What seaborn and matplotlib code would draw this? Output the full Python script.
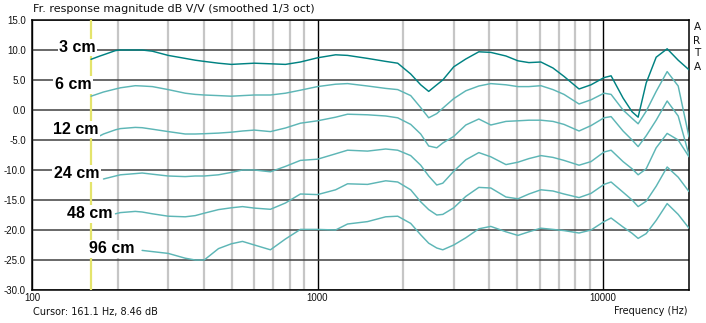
import numpy as np
import pandas as pd
import matplotlib
matplotlib.use("Agg")
import matplotlib.pyplot as plt
import seaborn as sns
from matplotlib.ticker import FixedLocator, NullFormatter, FuncFormatter

nan = np.nan

# ---- data ----
freq_hz = [161, 173, 178, 196, 204, 230, 243, 264, 300, 344, 373, 401, 450, 499, 546,
           601, 684, 772, 871, 1000, 1157, 1274, 1497, 1733, 1909, 2120, 2298, 2451, 2616,
           2746, 3000, 3306, 3672, 4045, 4570, 5033, 5500, 6057, 6677, 7299, 8240, 9075,
           10080, 10670, 11750, 12640, 13270, 14160, 15350, 16770, 18330, 20000]

cm3 = [8.45, 9.0, 9.2, 9.9, 10.0, 10.0, 10.0, 9.8, 9.1, 8.6, 8.3, 8.1, 7.8, 7.6, 7.7,
       7.8, 7.7, 7.6, 8.0, 8.7, 9.2, 9.1, 8.6, 8.1, 7.8, 6.0, 4.2, 3.1, 4.2,
       5.0, 7.2, 8.5, 9.7, 9.6, 9.0, 8.2, 7.9, 8.0, 7.0, 5.6, 3.5, 4.2,
       5.4, 5.7, 2.0, -0.3, -1.2, 4.5, 8.8, 10.2, 8.3, 6.7]
cm6 = [2.3, 2.8, 3.0, 3.5, 3.7, 4.05, 4.0, 3.9, 3.4, 2.8, 2.6, 2.5, 2.4, 2.3, 2.4,
       2.5, 2.5, 2.8, 3.3, 3.9, 4.3, 4.4, 4.0, 3.6, 3.4, 2.4, 0.4, -1.3, -0.6,
       0.3, 1.9, 3.2, 4.0, 4.4, 4.2, 3.9, 3.9, 4.05, 3.4, 2.6, 1.0, 1.7,
       2.8, 2.6, 0.0, -1.4, -2.3, -0.2, 3.1, 6.4, 4.0, -4.5]
cm12 = [nan, -4.3, -4.0, -3.3, -3.1, -2.9, -2.95, -3.2, -3.6, -4.0, -4.0, -3.95, -3.85, -3.7, -3.5,
        -3.35, -3.6, -3.0, -2.2, -1.8, -1.2, -0.7, -0.8, -1.0, -1.3, -2.4, -4.0, -6.0, -6.3,
        -5.5, -4.4, -2.5, -1.5, -2.5, -1.9, -1.8, -1.7, -1.7, -1.9, -2.4, -3.5, -2.6,
        -1.3, -1.1, -3.5, -5.0, -6.1, -4.3, -1.7, 1.5, -1.0, -7.5]
cm24 = [nan, nan, -11.5, -11.0, -10.8, -10.6, -10.5, -10.7, -11.0, -11.1, -11.0, -11.0, -10.8, -10.4, -10.0,
        -10.0, -10.3, -9.4, -8.4, -8.2, -7.3, -6.7, -6.85, -6.5, -6.7, -7.6, -9.2, -11.0, -12.5,
        -12.2, -10.2, -8.3, -7.1, -7.8, -9.1, -8.7, -8.1, -7.6, -7.9, -8.4, -9.2, -8.6,
        -7.0, -6.7, -8.6, -9.8, -10.8, -9.8, -6.3, -3.9, -5.0, -7.8]
cm48 = [nan, nan, nan, -17.3, -17.1, -16.9, -17.0, -17.3, -17.7, -17.8, -17.6, -17.2, -16.6, -16.3, -16.1,
        -16.35, -16.55, -15.5, -14.0, -14.1, -13.3, -12.3, -12.4, -11.8, -12.0, -13.3, -15.3, -16.6, -17.5,
        -17.4, -16.3, -14.4, -12.9, -13.0, -14.5, -14.8, -14.0, -13.3, -13.5, -14.0, -14.6, -13.9,
        -12.4, -12.0, -13.7, -15.0, -16.1, -15.2, -12.7, -9.5, -11.2, -13.6]
cm96 = [nan, nan, nan, nan, nan, nan, -23.4, -23.6, -23.9, -24.7, -25.0, -25.0, -23.1, -22.3, -21.9,
        -22.5, -23.3, -21.5, -19.9, -19.9, -20.0, -19.0, -18.6, -17.8, -17.7, -18.9, -20.8, -22.2, -23.0,
        -23.3, -22.5, -21.3, -19.8, -19.4, -20.3, -20.9, -20.3, -19.7, -19.9, -20.1, -20.5, -20.0,
        -18.6, -18.0, -19.5, -20.55, -21.4, -20.6, -18.4, -15.6, -17.4, -19.7]

distances = ["3 cm", "6 cm", "12 cm", "24 cm", "48 cm", "96 cm"]
series = [cm3, cm6, cm12, cm24, cm48, cm96]
x_tick_values = [100, 1000, 10000]
x_tick_labels = ["100", "1000", "10000"]
y_tick_values = [15, 10, 5, 0, -5, -10, -15, -20, -25, -30]
cursor_hz = 161.1
cursor_db = 8.46

# ---- build long table ----
rows = []
for name, vals in zip(distances, series):
    for f, v in zip(freq_hz, vals):
        if not np.isnan(v):
            rows.append({"freq": f, "db": v, "dist": name})
df = pd.DataFrame(rows)

sns.set_theme(style="white")
plt.rcParams["font.family"] = ["DejaVu Sans"]

W, H = 706, 323
fig = plt.figure(figsize=(W / 100, H / 100), dpi=100)
L, R, T, B = 32, 689, 20, 290
ax = fig.add_axes([L / W, (H - B) / H, (R - L) / W, (B - T) / H])
ax.set_facecolor("white")

dark = "#008282"
light = "#5db6b6"
palette = {d: (dark if d == "3 cm" else light) for d in distances}

ax.set_xscale("log")
sns.lineplot(data=df, x="freq", y="db", hue="dist", palette=palette, legend=False,
             ax=ax, linewidth=1.05, sort=True, estimator=None, zorder=5)

ax.set_xlim(100, 20000)
ax.set_ylim(-30, 15)

# grid
ax.xaxis.set_major_locator(FixedLocator(x_tick_values))
ax.xaxis.set_major_formatter(FuncFormatter(lambda v, p: x_tick_labels[x_tick_values.index(int(round(v)))] if int(round(v)) in x_tick_values else ""))
minor = [m * d for d in (100, 1000, 10000) for m in range(2, 10) if m * d < 20000]
ax.xaxis.set_minor_locator(FixedLocator(minor))
ax.xaxis.set_minor_formatter(NullFormatter())
ax.yaxis.set_major_locator(FixedLocator(y_tick_values))
ax.yaxis.set_major_formatter(FuncFormatter(lambda v, p: f"{v:.1f}"))

ax.grid(True, which="minor", axis="x", color="#c6c6c6", linewidth=1.6, zorder=1)
ax.grid(True, which="major", axis="x", color="black", linewidth=1.0, zorder=1)
ax.grid(True, which="major", axis="y", color="#404040", linewidth=1.1, zorder=1)
ax.set_axisbelow(True)

ax.tick_params(axis="both", which="both", length=0)
ax.tick_params(axis="x", pad=2.5, labelsize=7, labelcolor="#111111")
ax.tick_params(axis="y", pad=4.5, labelsize=7, labelcolor="#111111")
for lab in ax.get_xticklabels() + ax.get_yticklabels():
    lab.set_family("Liberation Sans")
ax.set_xlabel("")
ax.set_ylabel("")

for s in ax.spines.values():
    s.set_color("black")
    s.set_linewidth(1.1)

# cursor line
ax.axvline(cursor_hz, color="#e4e46c", linewidth=1.6, zorder=3)

# distance labels
label_pos = [(0.0693, 0.8974), (0.0624, 0.7593), (0.0670, 0.5952),
             (0.0677, 0.4322), (0.0875, 0.2815), (0.1210, 0.1519)]
for name, (xf, yf) in zip(distances, label_pos):
    ax.text(xf, yf, name, transform=ax.transAxes, ha="center", va="center",
            fontsize=11.5, fontweight="bold", family="Liberation Sans", color="black",
            zorder=10, bbox=dict(boxstyle="square,pad=0.08", fc="white", ec="none"))

# texts
fig.text(33 / W, 1 - 9.5 / H, "Fr. response magnitude dB V/V (smoothed 1/3 oct)",
         ha="left", va="center", fontsize=8, color="#111111")
fig.text(33 / W, 1 - 311.5 / H, f"Cursor: {cursor_hz:.1f} Hz, {cursor_db:.2f} dB",
         ha="left", va="center", fontsize=7, color="#111111")
fig.text(688 / W, 1 - 311.5 / H, "Frequency (Hz)", ha="right", va="center",
         fontsize=7, color="#111111")
for ch, yy in zip("ARTA", [27, 40.5, 53.5, 67]):
    fig.text(697 / W, 1 - yy / H, ch, ha="center", va="center", fontsize=7.5, color="#111111")

fig.savefig("out.png", dpi=100, facecolor="white")
